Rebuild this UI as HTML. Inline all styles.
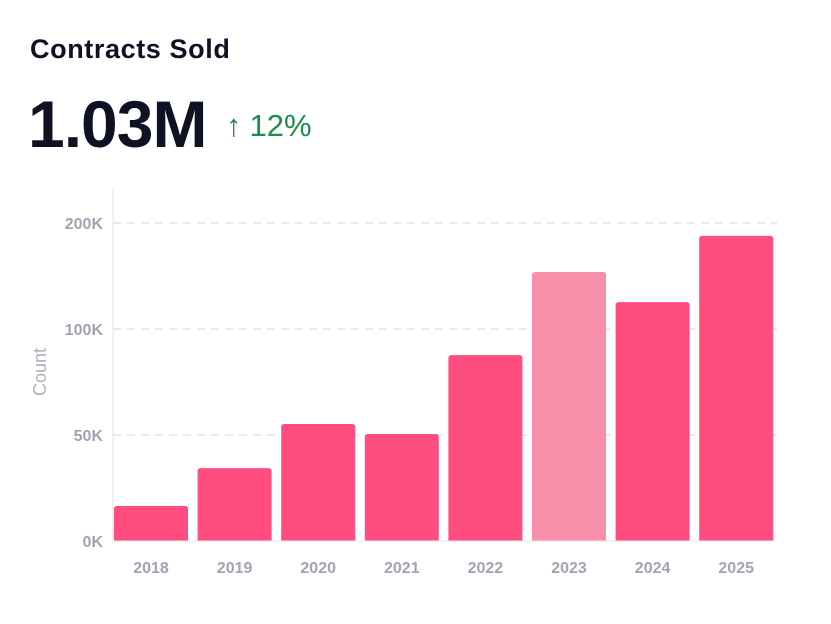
<!DOCTYPE html>
<html><head><meta charset="utf-8"><style>
body{margin:0;width:831px;height:624px;background:#fff;font-family:"Liberation Sans",sans-serif;overflow:hidden;position:relative}
.t{position:absolute;left:30px;top:34px;font-size:27px;font-weight:600;color:#0f1222;letter-spacing:0.6px}
.v{position:absolute;left:28px;top:86px;font-size:66px;font-weight:600;color:#0f1222;letter-spacing:-1px}
.d{position:absolute;left:226px;top:108px;font-size:31px;color:#1a8f4a}
.d span{display:inline-block;margin-right:8px;font-size:31px}
svg{position:absolute;left:0;top:0}
</style></head><body>
<div class="t">Contracts Sold</div>
<div class="v">1.03M</div>
<div class="d"><span>↑</span>12%</div>
<svg id="c" width="831" height="624"></svg>
<script>
const categories=["2018","2019","2020","2021","2022","2023","2024","2025"];
const values=[16.5,34.4,55.2,50.5,87.7,126.9,112.7,143.9];
const tickValues=[0,50,100,150];
const tickLabels=["0K","50K","100K","200K"];
const highlight="2023";
const svg=document.getElementById('c');const NS="http://www.w3.org/2000/svg";
const x0=113,x1=777,yb=541,pxPer=106/50;
const y=v=>yb-v*pxPer;
const band=83.6;
function mk(t,a,p){const e=document.createElementNS(NS,t);for(const k in a)e.setAttribute(k,a[k]);(p||svg).appendChild(e);return e;}
const ax=mk('line',{x1:x0,x2:x0,y1:188,y2:yb,stroke:'#e6e6ec','stroke-width':1});


tickValues.forEach((t,i)=>{
 if(t>0){const g=mk('line',{x1:x0,x2:x1,y1:y(t),y2:y(t),stroke:'#d4d4dc','stroke-dasharray':'8 6'});
 
 }
 const l=mk('text',{x:103,y:y(t)+6,'text-anchor':'end','font-size':16,'font-weight':'bold',fill:'#a3a2b2'});
 l.textContent=tickLabels[i];
 
 
});
categories.forEach((c,i)=>{
 const bx=x0+1+i*band;
 const r=mk('path',{d:`M${bx},${yb}V${y(values[i])+3}q0,-3 3,-3h68q3,0 3,3V${yb}Z`,fill:c===highlight?'#f78fab':'#ff4d7f'});
 
 
 const l=mk('text',{x:bx+37,y:573,'text-anchor':'middle','font-size':16,'font-weight':'bold',fill:'#a3a2b2'});
 l.textContent=c;
 
 
});
const bl=mk('line',{x1:x0,x2:x1,y1:yb,y2:yb,stroke:'#e6e6ec'});


const yt=mk('text',{x:46,y:372,transform:'rotate(-90 46 372)','text-anchor':'middle','font-size':18,fill:'#b0afbd'});
yt.textContent='Count';


</script>
</body></html>
